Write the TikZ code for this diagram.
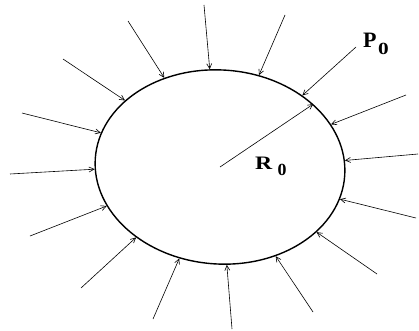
\documentclass[tikz,border=0pt]{standalone}
\usepackage{fontspec}
\setmainfont{Liberation Serif}
\usetikzlibrary{arrows.meta,shapes.geometric}
% letter, its size, its x-stretch, subscript, subscript x-stretch, gap
\newcommand{\lbl}[6]{\scalebox{#3}[1]{\fontsize{#2}{#2}\selectfont\textbf{#1}}\hspace{#6}\raisebox{-6pt}{\scalebox{#5}[1]{\fontsize{17}{17}\selectfont\textbf{#4}}}}

\begin{document}
\begin{tikzpicture}[x=1pt,y=1pt,>={Straight Barb[length=5pt,width=5pt]}]
\tikzset{
 body/.style={draw,ellipse,line width=1.4pt,minimum width=250pt,minimum height=194pt,inner sep=0pt,rotate=-4},
 arr/.style={->,line width=0.6pt},
 lab/.style={inner sep=0pt,anchor=base west}
}
\useasboundingbox (0,0) rectangle (419,330);
\node[body] (shell) at (220,163) {};
% pressure arrows (anchor angles in the rotated frame of the shell)
\foreach \i/\x/\y/\a in {1/204/325/100.4,2/285/315/71.8,3/356/283/45.7,4/406/235/25.1,
 5/418/176/7.6,6/128/309/126.2,7/63/271/149.2,8/22/217/168.5,9/10/156/185.4,
 10/30/94/203.9,11/81/42/224.5,12/153/11/250.3,13/232/1/278.1,14/313/18/306.6,
 15/377/56/330.4,16/416/112/349.9}{
 \coordinate (s\i) at (\x,\y);
 \draw[arr] (s\i)--(shell.\a);
}
% radius
\draw[arr] (shell.center)--(shell.38.4);
\node[lab] (p0) at (363,282) {\lbl{P}{22}{1}{0}{1.25}{1.5pt}};
\node[lab] (r0) at (255,161) {\lbl{R}{19}{1.25}{0}{1.05}{5pt}};
\end{tikzpicture}
\end{document}
